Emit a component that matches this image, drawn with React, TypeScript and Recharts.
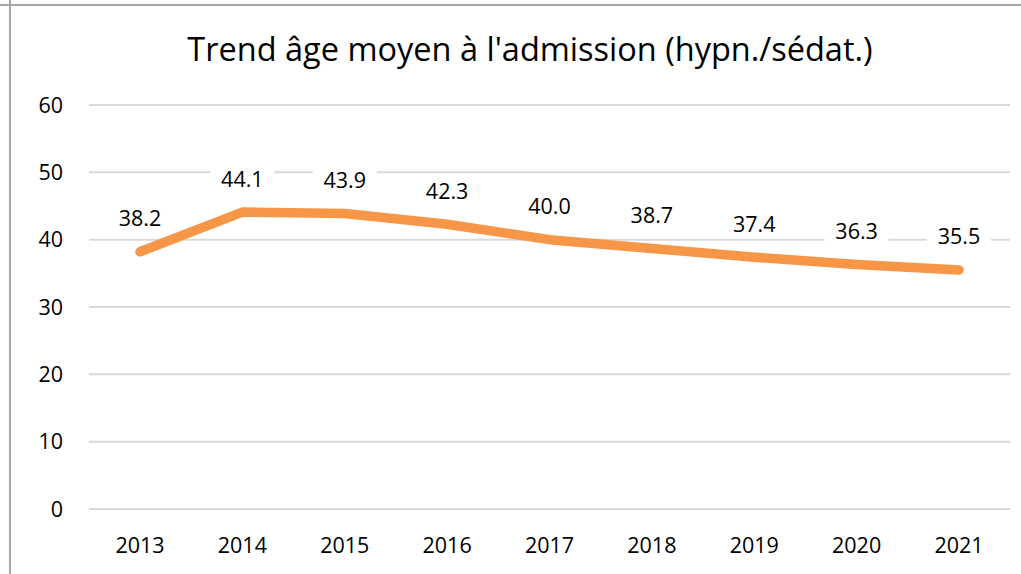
import { LineChart, Line, XAxis, YAxis, CartesianGrid, LabelList } from "recharts";

const years = ["2013", "2014", "2015", "2016", "2017", "2018", "2019", "2020", "2021"];
const ageMoyen = [38.2, 44.1, 43.9, 42.3, 40.0, 38.7, 37.4, 36.3, 35.5];
const yTicks = [0, 10, 20, 30, 40, 50, 60];

const data = years.map((year, i) => ({ year, age: ageMoyen[i] }));

const FONT = "'Open Sans', 'Noto Sans', sans-serif";

// white box behind each value, like Excel's data label fill
const ValueLabel = (props: any) => {
  const { x, y, value } = props;
  if (x == null || y == null) return null;
  return (
    <g>
      <rect x={x - 32} y={y - 48} width={64} height={29} fill="#ffffff" />
      <text
        x={x}
        y={y - 34}
        textAnchor="middle"
        dominantBaseline="central"
        fontSize={21.5}
        fontFamily={FONT}
        fill="#000"
      >
        {Number(value).toFixed(1)}
      </text>
    </g>
  );
};

export default function App() {
  return (
    <div style={{ position: "absolute", left: 0, top: 0, width: 1021, height: 574, background: "#fff" }}>
      <div style={{ position: "absolute", left: 0, top: 4, width: 1021, height: 2, background: "#a6a6a6" }} />
      <div style={{ position: "absolute", left: 9, top: 0, width: 2, height: 574, background: "#a6a6a6" }} />
      <div
        style={{
          position: "absolute",
          left: 30,
          width: 1000,
          top: 29,
          textAlign: "center",
          fontFamily: FONT,
          fontSize: 32.5,
          color: "#000",
          lineHeight: "40px",
        }}
      >
        Trend âge moyen à l'admission (hypn./sédat.)
      </div>
      <div style={{ position: "absolute", left: 0, top: 0 }}>
        <LineChart width={1021} height={574} data={data} margin={{ top: 105, right: 11, bottom: 35, left: 0 }}>
          <CartesianGrid vertical={false} stroke="#d9d9d9" strokeWidth={2} />
          <XAxis
            dataKey="year"
            height={30}
            padding={{ left: 51, right: 51 }}
            axisLine={{ stroke: "#d9d9d9", strokeWidth: 2 }}
            tickLine={false}
            tickMargin={23}
            tick={{ fill: "#000", fontSize: 21.5, fontFamily: FONT }}
          />
          <YAxis
            width={89}
            domain={[0, 60]}
            ticks={yTicks}
            axisLine={false}
            tickLine={false}
            tickSize={0}
            tickMargin={26}
            tick={{ fill: "#000", fontSize: 21.5, fontFamily: FONT }}
          />
          <Line
            type="linear"
            dataKey="age"
            stroke="#f79646"
            strokeWidth={9.5}
            strokeLinecap="round"
            strokeLinejoin="round"
            dot={false}
            isAnimationActive={false}
          >
            <LabelList dataKey="age" content={<ValueLabel />} />
          </Line>
        </LineChart>
      </div>
    </div>
  );
}
